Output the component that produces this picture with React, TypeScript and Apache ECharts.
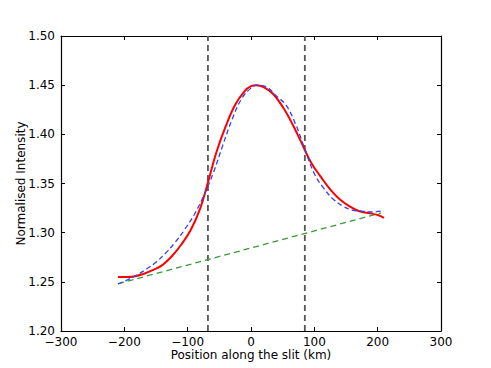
import React, { useEffect, useRef } from "react";
import * as echarts from "echarts";

const xTicks = [-300, -200, -100, 0, 100, 200, 300];
const yTicks = [1.2, 1.25, 1.3, 1.35, 1.4, 1.45, 1.5];

const fitX = [-210, -195, -185, -170, -155, -140, -125, -110, -95, -80, -68, -55, -40, -25, -10, 0, 8, 20, 35, 50, 65, 80, 95, 110, 125, 140, 155, 170, 185, 200, 210];
const fitY = [1.255, 1.255, 1.2555, 1.258, 1.262, 1.267, 1.276, 1.288, 1.303, 1.325, 1.351, 1.381, 1.408, 1.430, 1.444, 1.449, 1.450, 1.448, 1.441, 1.428, 1.411, 1.391, 1.371, 1.357, 1.344, 1.334, 1.327, 1.322, 1.320, 1.318, 1.315];

const dataX = [-210, -195, -180, -165, -150, -135, -120, -105, -90, -75, -60, -45, -30, -15, 0, 10, 25, 40, 55, 70, 85, 100, 115, 130, 145, 160, 175, 190, 207];
const dataY = [1.248, 1.252, 1.257, 1.263, 1.270, 1.279, 1.290, 1.303, 1.318, 1.337, 1.360, 1.388, 1.415, 1.436, 1.447, 1.450, 1.448, 1.439, 1.430, 1.411, 1.385, 1.360, 1.345, 1.334, 1.327, 1.323, 1.322, 1.321, 1.322];

const bgX = [-210, 205];
const bgY = [1.248, 1.320];

const boundaries = [-68, 85];

const FONT = "DejaVu Sans";

export default function App() {
  const ref = useRef<HTMLDivElement>(null);
  useEffect(() => {
    if (!ref.current) return;
    const chart = echarts.init(ref.current, null, { renderer: "svg" });
    const fmtX = (v: number) => (v < 0 ? "\u2212" + Math.abs(v) : String(v));
    const fmtY = (v: number) => v.toFixed(2);
    const axisCommon = {
      type: "value" as const,
      axisLine: { show: true, onZero: false, lineStyle: { color: "#000", width: 1.2 } },
      axisTick: { show: true, inside: true, length: 4, lineStyle: { color: "#000", width: 1 } },
      splitLine: { show: false },
    };
    const vlines = boundaries.map((b) => ({
      type: "line",
      data: [[b, yTicks[0]], [b, yTicks[yTicks.length - 1]]],
      symbol: "none",
      lineStyle: { color: "#555", width: 1.8, type: [6, 4] },
      silent: true,
      z: 1,
    }));
    chart.setOption({
      animation: false,
      grid: { left: 61, top: 36, right: 50, bottom: 37 },
      xAxis: [
        {
          ...axisCommon,
          min: xTicks[0],
          max: xTicks[xTicks.length - 1],
          interval: 100,
          position: "bottom",
          name: "Position along the slit (km)",
          nameLocation: "middle",
          nameGap: 18,
          nameMoveOverlap: false,
          nameTextStyle: { fontFamily: FONT, fontSize: 12, color: "#000" },
          axisLabel: { fontFamily: FONT, fontSize: 12, color: "#000", margin: 5, formatter: fmtX },
        },
        {
          ...axisCommon,
          min: xTicks[0],
          max: xTicks[xTicks.length - 1],
          interval: 100,
          position: "top",
          axisLabel: { show: false },
        },
      ],
      yAxis: [
        {
          ...axisCommon,
          min: 1.2,
          max: 1.5,
          interval: 0.05,
          position: "left",
          name: "Normalised Intensity",
          nameLocation: "middle",
          nameGap: 34,
          nameMoveOverlap: false,
          nameTextStyle: { fontFamily: FONT, fontSize: 12, color: "#000" },
          axisLabel: { fontFamily: FONT, fontSize: 12, color: "#000", margin: 6, formatter: fmtY },
        },
        {
          ...axisCommon,
          min: 1.2,
          max: 1.5,
          interval: 0.05,
          position: "right",
          axisLabel: { show: false },
        },
      ],
      series: [
        ...vlines,
        {
          type: "line",
          data: bgX.map((x, i) => [x, bgY[i]]),
          symbol: "none",
          lineStyle: { color: "#3a9a3a", width: 1.3, type: [6, 4] },
          z: 2,
        },
        {
          type: "line",
          data: fitX.map((x, i) => [x, fitY[i]]),
          symbol: "none",
          smooth: 0.4,
          lineStyle: { color: "#ff0000", width: 2 },
          z: 3,
        },
        {
          type: "line",
          data: dataX.map((x, i) => [x, dataY[i]]),
          symbol: "none",
          smooth: 0.4,
          lineStyle: { color: "#3344ee", width: 1.3, type: [5, 3] },
          z: 4,
        },
      ],
    });
    return () => chart.dispose();
  }, []);
  return <div ref={ref} style={{ width: 491, height: 368, position: "absolute", left: 0, top: 0 }} />;
}
